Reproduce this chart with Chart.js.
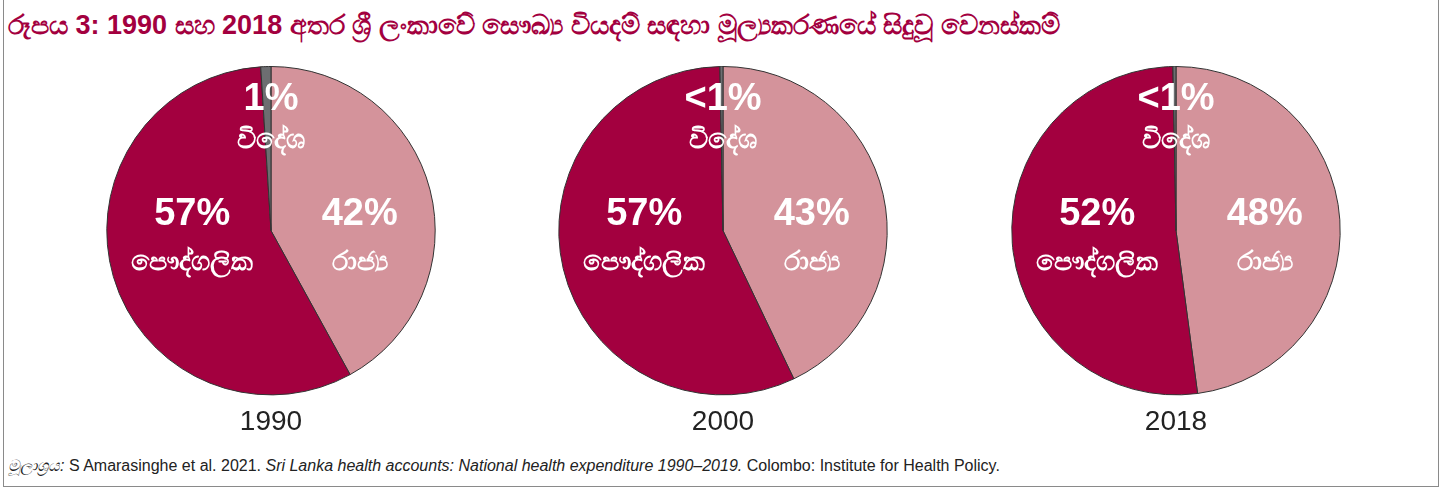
<!DOCTYPE html>
<html>
<head>
<meta charset="utf-8">
<script src="https://cdn.jsdelivr.net/npm/chart.js@4.4.1/dist/chart.umd.min.js"></script>
<style>
  body { margin: 0; background: #fff; width: 1443px; height: 488px; overflow: hidden; font-family: "Liberation Sans", Arial, sans-serif; }
  #frame { position: absolute; left: 3px; top: -2px; width: 1436px; height: 489px; border: 1px solid #8a8a8a; box-sizing: border-box; }
  #title { position: absolute; left: 8px; top: 10px; font-size: 27px; font-weight: bold; color: #a3003f; white-space: nowrap; }
  #source { position: absolute; left: 8px; top: 457px; font-size: 16px; color: #222; white-space: nowrap; }
  .pie { position: absolute; top: 66px; width: 452px; height: 373px; }
</style>
</head>
<body>
<div id="frame"></div>
<div id="title">රූපය 3: 1990 සහ 2018 අතර ශ්‍රී ලංකාවේ සෞඛ්‍ය වියදම් සඳහා මූල්‍යකරණයේ සිදුවූ වෙනස්කම්</div>
<div class="pie" style="left:45px"><canvas id="pie0"></canvas></div>
<div class="pie" style="left:497px"><canvas id="pie1"></canvas></div>
<div class="pie" style="left:950px"><canvas id="pie2"></canvas></div>
<div id="source"><i>මූලාශ්‍රය:</i> S Amarasinghe et al. 2021. <i>Sri Lanka health accounts: National health expenditure 1990–2019.</i> Colombo: Institute for Health Policy.</div>

<script>
// slice order, clockwise from 12 o'clock
const categories = ['රාජ්‍ය', 'පෞද්ගලික', 'විදේශ'];
const years = ['1990', '2000', '2018'];

// shares in % (government, private, foreign)
const share1990 = [42, 57, 1];
const share2000 = [42.9, 56.8, 0.3];
const share2018 = [47.9, 51.8, 0.3];

// printed labels
const labels1990 = ['42%', '57%', '1%'];
const labels2000 = ['43%', '57%', '<1%'];
const labels2018 = ['48%', '52%', '<1%'];

const colors = ['#d4939b', '#a3003f', '#6d6e71'];

const pieLabels = {
    id: 'pieLabels',
    afterDatasetsDraw(chart, args, opts)
    {
        const arc = chart.getDatasetMeta(0).data[0];
        const x = arc.x, y = arc.y, r = arc.outerRadius;
        const ctx = chart.ctx;
        const txt = opts.texts;
        ctx.save();
        ctx.fillStyle = '#fff';
        ctx.textAlign = 'center';
        ctx.textBaseline = 'middle';
        const pct = 'bold 38px "Liberation Sans", Arial, sans-serif';
        const name = 'bold 27px "Noto Sans", "Liberation Sans", sans-serif';
        // government
        ctx.font = pct;  ctx.fillText(txt[0], x + 0.54 * r, y - 0.1 * r);
        ctx.font = name; ctx.fillText(categories[0], x + 0.54 * r, y + 0.19 * r);
        // private
        ctx.font = pct;  ctx.fillText(txt[1], x - 0.48 * r, y - 0.1 * r);
        ctx.font = name; ctx.fillText(categories[1], x - 0.48 * r, y + 0.19 * r);
        // foreign
        ctx.font = pct;  ctx.fillText(txt[2], x, y - 0.8 * r);
        ctx.font = name; ctx.fillText(categories[2], x, y - 0.55 * r);
        ctx.restore();
    }
};

function addPie(id, year, values, texts)
{
    new Chart(document.getElementById(id), {
        type: 'pie',
        data: {
            labels: categories,
            datasets: [{
                data: values,
                backgroundColor: colors,
                borderColor: '#333',
                borderWidth: 1
            }]
        },
        plugins: [pieLabels],
        options: {
            responsive: true,
            maintainAspectRatio: false,
            animation: false,
            layout: { padding: 0 },
            plugins: {
                legend: { display: false },
                tooltip: { enabled: false },
                title: {
                    display: true,
                    text: year,
                    position: 'bottom',
                    color: '#222',
                    font: { size: 28, family: '"Liberation Sans", Arial, sans-serif', weight: 'normal' },
                    padding: { top: 10, bottom: 0 }
                },
                pieLabels: { texts: texts }
            }
        }
    });
}

addPie('pie0', years[0], share1990, labels1990);
addPie('pie1', years[1], share2000, labels2000);
addPie('pie2', years[2], share2018, labels2018);
</script>
</body>
</html>
